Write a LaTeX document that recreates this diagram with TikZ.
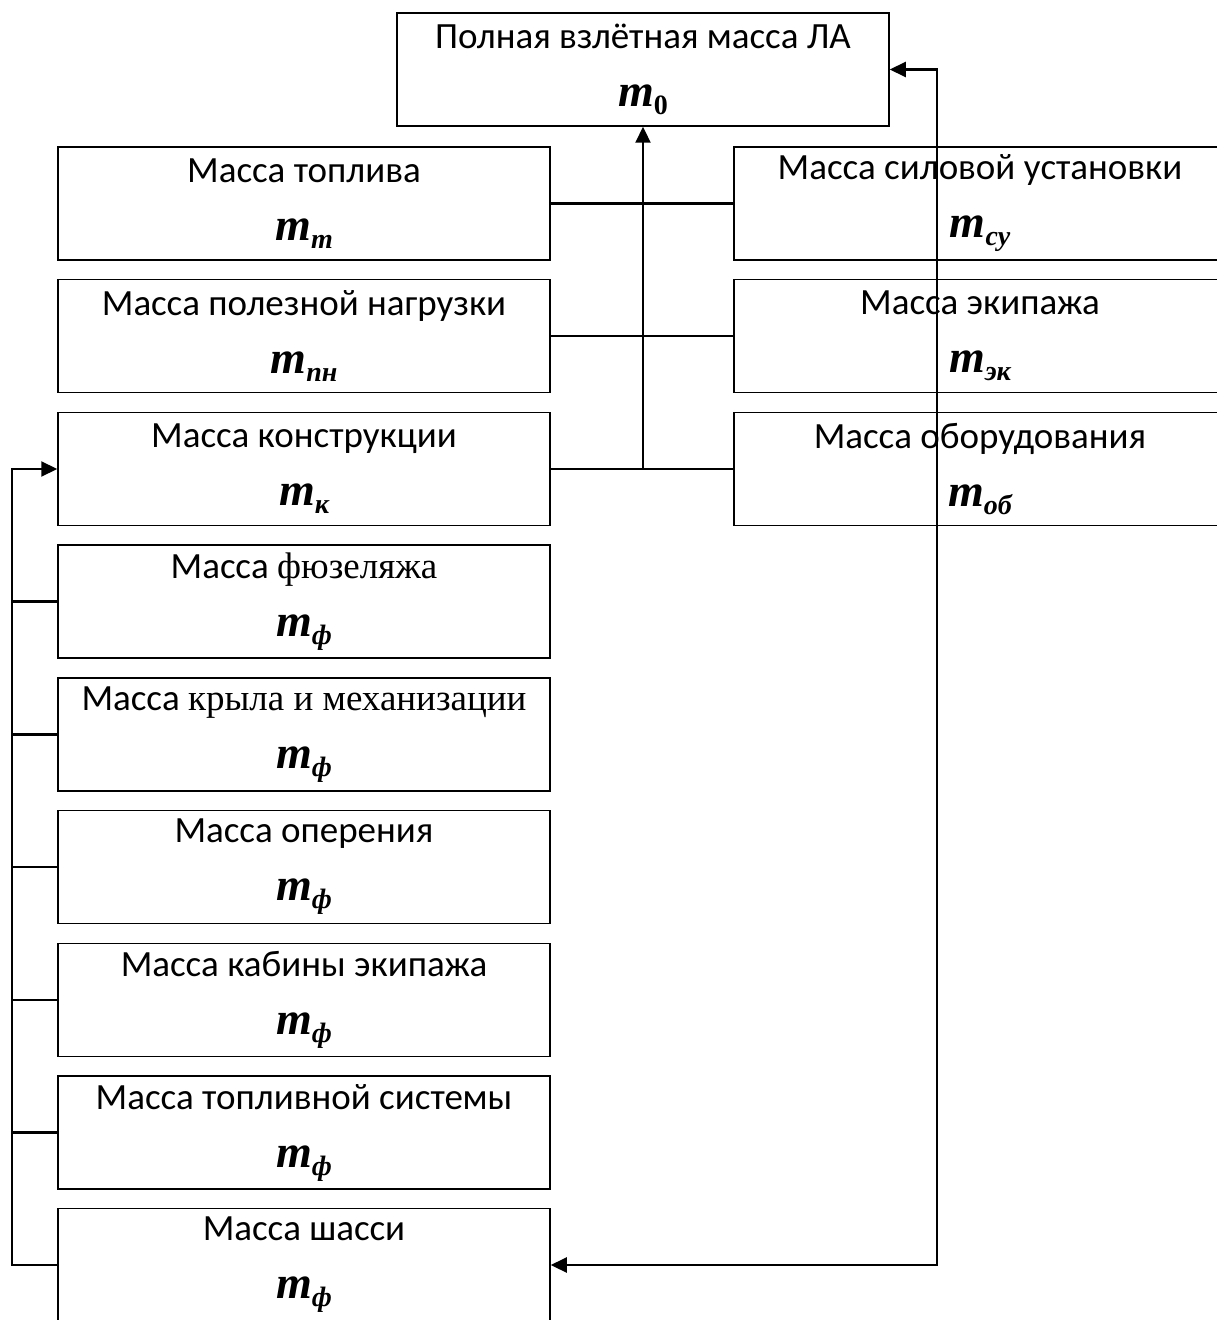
\documentclass[tikz,border=0pt]{standalone}
\usepackage{fontspec}
\setmainfont{Carlito}
\newfontfamily\timesfnt{Liberation Serif}
\usetikzlibrary{arrows.meta}
\newcommand{\msub}[1]{{\timesfnt\bfseries\itshape\fontsize{23}{29}\selectfont m}\raisebox{-0.45ex}{\timesfnt\bfseries\itshape\fontsize{14}{14}\selectfont #1}}
\tikzset{
  mbox/.style={draw, line width=0.75pt, minimum width=246pt, minimum height=56.5pt,
    inner sep=0pt, align=center, font=\fontsize{18.5}{29}\selectfont},
  link/.style={line width=1.1pt},
}
\begin{document}
\begin{tikzpicture}[x=0.5pt, y=-0.5pt, >={Triangle[length=8pt,width=7.5pt]}]
		\useasboundingbox (0,0) rectangle (1216,1320);
		% верхний блок
		\node[mbox] (m0) at (643,69.5) {Полная взлётная масса ЛА\\\msub{\upshape 0}};
		
		% левая колонка
		\node[mbox] (mt)  at (304,203.5) {Масса топлива\\\msub{т}};
		\node[mbox] (mpn) at (304,336)   {Масса полезной нагрузки\\\msub{пн}};
		\node[mbox] (mk)  at (304,469)   {Масса конструкции\\\msub{к}};
		
		% правая колонка
		\node[mbox] (msu) at (980,203.5) {Масса силовой установки\\\msub{су}};
		\node[mbox] (mek) at (980,336)   {Масса экипажа\\\msub{эк}};
		\node[mbox] (mob) at (980,469)   {Масса оборудования\\\msub{об}};
		
		% составляющие массы конструкции
		\node[mbox] (mf)  at (304,601.5)  {Масса {\timesfnt фюзеляжа}\\\msub{ф}};
		\node[mbox] (mkr) at (304,734.5)  {Масса {\timesfnt крыла и механизации}\\\msub{ф}};
		\node[mbox] (mop) at (304,867)    {Масса оперения\\\msub{ф}};
		\node[mbox] (mkb) at (304,1000)   {Масса кабины экипажа\\\msub{ф}};
		\node[mbox] (mts) at (304,1132.5) {Масса топливной системы\\\msub{ф}};
		\node[mbox] (msh) at (304,1265)   {Масса шасси\\\msub{ф}};
		
		% связи
		\coordinate (rb) at (937,1265);
		\coordinate (lb) at (12,1265);
		\draw[link] (mt.east) -- (msu.west) (mpn.east) -- (mek.west) (mk.east) -- (mob.west);
		\draw[link, ->] (mk.east -| m0.south) -- (m0.south);
		\draw[link, <->] (m0.east) -| (rb) -- (msh.east);
		\draw[link, ->] (msh.west) -- (lb) |- (mk.west);
		\foreach \n in {mf, mkr, mop, mkb, mts} {
			\draw[link] (\n.west) -- (\n.west -| lb);
		}
	\end{tikzpicture}
\end{document}
